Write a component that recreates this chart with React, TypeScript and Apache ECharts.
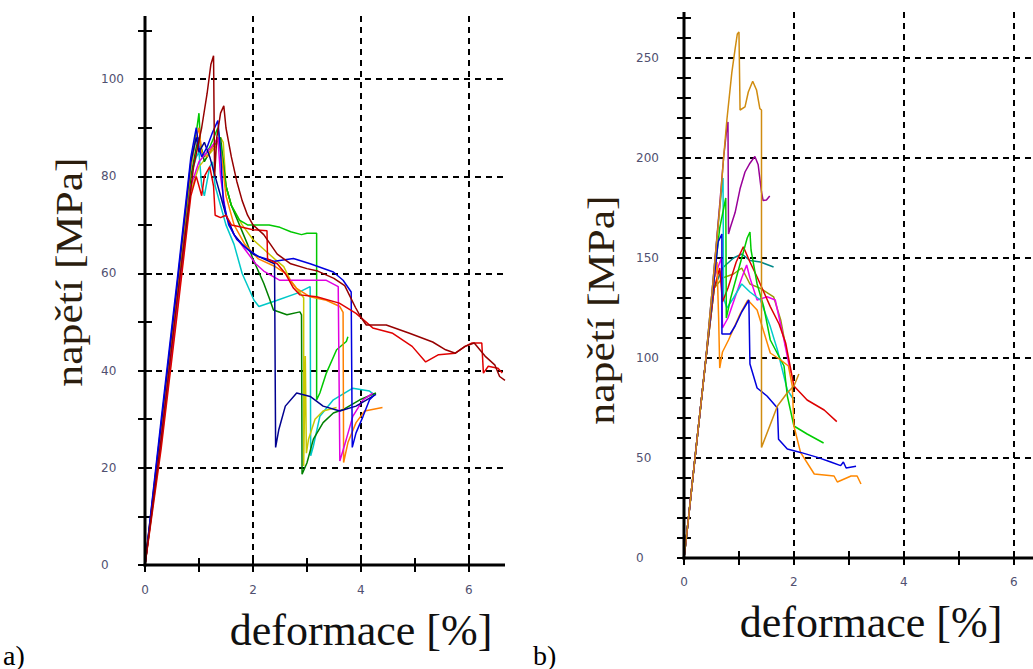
import React, { useEffect, useRef } from 'react';
import * as echarts from 'echarts';

// ---------- axis ranges, ticks & labels ----------
const A_X_MAX = 6.67;
const A_Y_MAX = 113;
const B_X_MAX = 6.35;
const B_Y_MAX = 273;
const X_TICKS = [0, 1, 2, 3, 4, 5, 6];
const X_LABELS = [0, 2, 4, 6];
const LEFT_Y_TICKS = [0, 10, 20, 30, 40, 50, 60, 70, 80, 90, 100, 110];
const LEFT_Y_LABELS = [0, 20, 40, 60, 80, 100];
const RIGHT_Y_TICKS = [0, 10, 20, 30, 40, 50, 60, 70, 80, 90, 100, 110, 120, 130, 140, 150, 160, 170, 180, 190, 200, 210, 220, 230, 240, 250, 260, 270];
const RIGHT_Y_LABELS = [0, 50, 100, 150, 200, 250];

// ---------- a) series: [deformace %, napětí MPa] ----------
const A_MAROON = [[0,0],[0.3,26],[0.6,55],[0.9,82],[1.05,90],[1.15,97],[1.22,103],[1.27,104.8],[1.29,80],[1.33,88],[1.4,93],[1.46,94.5],[1.5,90],[1.6,84],[1.7,79],[1.8,75],[1.9,72],[2.0,70],[2.2,68],[2.45,64],[2.7,62],[3.0,61],[3.2,60.5],[3.5,59],[3.7,57.5],[3.9,53],[4.0,51],[4.1,49.4],[4.47,49.4],[4.9,47.7],[5.33,45.9],[5.57,44.3],[5.75,43.6],[5.93,45],[6.1,45.7],[6.3,43],[6.48,41.2],[6.57,38.8],[6.67,38]];
const A_RED = [[0,0],[0.3,24],[0.6,52],[0.85,76],[0.95,80],[1.05,76],[1.1,80],[1.2,82],[1.27,78],[1.3,72],[1.4,71.5],[1.5,72],[1.6,70],[1.8,69.5],[2.0,69],[2.26,68.8],[2.27,63],[2.45,62],[2.6,60],[2.75,57],[2.87,55.6],[3.18,55.2],[3.6,53.9],[3.91,51.8],[4.22,48.8],[4.59,47.7],[4.95,45],[5.2,41.8],[5.44,43.3],[5.75,43.6],[5.93,45],[6.06,45.7],[6.24,45.7],[6.27,39.5],[6.36,40.9],[6.54,40.5],[6.62,39.5]];
const A_GREEN = [[0,0],[0.3,28],[0.6,57],[0.85,82],[0.95,89],[1.0,93],[1.03,86],[1.1,84],[1.2,86],[1.35,90],[1.42,85],[1.5,78],[1.6,74],[1.75,71],[1.9,70],[2.1,70],[2.3,70],[2.5,69.5],[2.7,68.6],[2.9,68],[3.0,68.3],[3.18,68.3],[3.18,34],[3.24,35.4],[3.36,39.5],[3.55,44.3],[3.73,46],[3.76,47]];
const A_DGREEN = [[0,0],[0.3,27],[0.6,56],[0.85,80],[0.95,86],[1.0,88],[1.1,83],[1.25,86],[1.4,88],[1.5,78],[1.6,74],[1.75,70],[1.9,66],[2.0,63],[2.2,58],[2.3,55],[2.38,52.5],[2.63,51.5],[2.87,52.1],[2.9,51.5],[2.91,18.7],[3.0,21],[3.12,25.9],[3.3,29.3],[3.49,31.3],[3.67,32],[3.98,34],[4.28,35.4]];
const A_CYAN = [[0,0],[0.3,27],[0.6,56],[0.85,80],[0.95,84],[1.0,85],[1.05,78],[1.1,76],[1.2,82],[1.25,83],[1.3,78],[1.4,74],[1.5,70],[1.65,66],[1.8,60],[2.02,54.5],[2.11,53.2],[2.45,54.5],[2.81,55.9],[3.06,57.3],[3.07,22.5],[3.12,24.5],[3.24,30.6],[3.49,34],[3.85,36.4],[4.16,35.8],[4.25,35]];
const A_BLUE = [[0,0],[0.3,30],[0.6,59],[0.85,84],[0.95,90],[1.0,86],[1.05,84],[1.15,86],[1.25,89],[1.35,91.5],[1.4,85],[1.45,75],[1.55,70],[1.7,67],[1.9,65],[2.1,63.5],[2.4,62.5],[2.75,63.1],[3.06,62],[3.49,60.3],[3.67,58.6],[3.82,56.2],[3.84,24.2],[3.91,27.2],[4.04,30.6],[4.16,34],[4.25,35]];
const A_NAVY = [[0,0],[0.3,29],[0.6,58],[0.85,83],[0.95,88],[1.0,85],[1.1,87],[1.2,84],[1.3,80],[1.4,76],[1.5,72],[1.65,68],[1.8,66],[2.0,64],[2.2,63],[2.4,62],[2.42,24.2],[2.48,27.9],[2.6,32.7],[2.81,35.4],[3.06,34.7],[3.3,32.7],[3.61,31.7],[3.91,32.7],[4.28,35.1]];
const A_MAGENTA = [[0,0],[0.3,26],[0.6,54],[0.85,78],[1.0,83],[1.15,85],[1.3,87],[1.35,88],[1.4,80],[1.5,72],[1.65,68],[1.85,65],[2.05,62],[2.2,60.5],[2.32,59.7],[2.5,58.6],[3.36,58.6],[3.58,57.3],[3.61,21.4],[3.73,25.9],[3.85,30.6],[4.04,34],[4.22,35.4]];
const A_ORANGE = [[0,0],[0.3,28],[0.6,57],[0.85,82],[0.95,88],[1.0,90],[1.05,85],[1.15,84],[1.25,86],[1.35,88],[1.42,84],[1.5,76],[1.65,70],[1.85,66],[2.1,63],[2.4,61.5],[2.6,60],[2.8,57],[3.06,55.2],[3.36,54.5],[3.61,53.2],[3.67,52],[3.68,21.1],[3.76,25.2],[3.91,29.3],[4.07,31.7],[4.4,32.4]];
const A_YELLOW = [[0,0],[0.3,25],[0.6,53],[0.85,77],[1.0,82],[1.15,84],[1.3,86],[1.4,88],[1.45,87],[1.5,78],[1.6,74],[1.8,70],[2.0,67],[2.2,65],[2.4,63],[2.57,61.4],[2.7,58.5],[2.81,56.9],[2.94,55],[2.94,20.4],[2.97,43],[2.99,23],[3.03,25.9],[3.15,30],[3.3,31.7],[3.55,32.4]];

// ---------- b) series ----------
const B_GOLD = [[0,0],[0.05,12],[0.2,50],[0.4,100],[0.55,145],[0.65,175],[0.72,200],[0.78,219],[0.87,242.7],[0.93,254.6],[0.97,262],[1.0,263],[1.02,224],[1.11,225.6],[1.17,233],[1.25,238.4],[1.32,234],[1.38,224.7],[1.41,224],[1.41,55.3],[1.7,76],[1.88,82.6],[2.0,86],[2.09,92]];
const B_PURPLE = [[0,0],[0.05,12],[0.2,50],[0.4,100],[0.55,145],[0.66,180],[0.72,200],[0.78,215],[0.8,218],[0.81,162],[0.84,165],[0.93,172.7],[1.02,184.6],[1.11,193],[1.2,197.4],[1.29,200.8],[1.35,196.6],[1.41,183],[1.44,178.7],[1.5,179],[1.56,181]];
const B_CYAN = [[0,0],[0.05,12],[0.2,50],[0.4,100],[0.55,145],[0.65,175],[0.71,190],[0.72,130],[0.78,125],[0.9,130],[1.05,137],[1.2,133],[1.39,129],[1.57,115.7],[1.7,104],[1.88,84],[2.0,79]];
const B_BLUE = [[0,0],[0.05,12],[0.2,50],[0.4,100],[0.55,140],[0.62,158],[0.69,162],[0.69,112],[0.84,112],[0.93,116],[1.05,123],[1.18,129],[1.2,97],[1.33,85],[1.51,81],[1.7,75],[1.72,59.4],[1.88,54.5],[2.12,52.8],[2.43,50.3],[2.67,48],[2.85,46.2],[2.9,48],[2.95,45],[3.13,45.9]];
const B_ORANGE = [[0,0],[0.05,12],[0.2,50],[0.4,100],[0.55,140],[0.6,148],[0.63,120],[0.65,95],[0.7,103],[0.81,109],[1.02,122],[1.16,129],[1.33,124],[1.57,102.5],[1.76,99],[1.9,96],[1.97,86],[2.0,66],[2.12,52.8],[2.37,42],[2.73,41],[2.79,38],[3.04,41],[3.15,41],[3.22,37]];
const B_RED = [[0,0],[0.05,12],[0.2,50],[0.4,100],[0.55,135],[0.65,145],[0.7,128],[0.8,135],[0.95,148],[1.08,155.6],[1.2,148],[1.33,140.5],[1.57,125.7],[1.73,117],[1.85,107.5],[2.0,86],[2.24,79],[2.55,74],[2.78,68.2]];
const B_GREEN = [[0,0],[0.05,12],[0.2,50],[0.4,100],[0.55,140],[0.65,165],[0.76,180],[0.77,120],[0.85,130],[0.95,140],[1.05,150],[1.15,160],[1.2,163],[1.22,154],[1.33,137],[1.45,125.7],[1.57,109],[1.82,96],[1.88,81],[2.0,66],[2.24,62],[2.54,57.5]];
const B_MAGENTA = [[0,0],[0.05,12],[0.2,50],[0.4,100],[0.55,140],[0.68,150],[0.7,115],[0.8,120],[0.95,132],[1.05,140],[1.14,146.5],[1.2,140],[1.33,129],[1.51,130.6],[1.66,129],[1.82,109],[1.94,92.5]];
const B_OLIVE = [[0,0],[0.05,12],[0.2,50],[0.4,100],[0.55,135],[0.7,140],[0.9,142],[1.05,145],[1.2,137],[1.39,134.8],[1.63,130.6],[1.76,119],[1.85,105.8]];
const B_TEAL = [[0,0],[0.05,12],[0.2,50],[0.4,100],[0.55,135],[0.7,145],[0.9,150],[1.05,152],[1.2,148.8],[1.39,148],[1.63,145.5]];

const A_LIST = [
  ['a-cyan', '#00c8c8', A_CYAN], ['a-yellow', '#c8c800', A_YELLOW], ['a-dgreen', '#008000', A_DGREEN],
  ['a-green', '#00c800', A_GREEN], ['a-orange', '#ff8000', A_ORANGE], ['a-magenta', '#e000e0', A_MAGENTA],
  ['a-navy', '#000090', A_NAVY], ['a-blue', '#0000e0', A_BLUE], ['a-red', '#e00000', A_RED], ['a-maroon', '#960000', A_MAROON],
];
const B_LIST = [
  ['b-teal', '#008888', B_TEAL], ['b-olive', '#999900', B_OLIVE], ['b-magenta', '#ee00ee', B_MAGENTA],
  ['b-cyan', '#00cccc', B_CYAN], ['b-red', '#dd0000', B_RED], ['b-green', '#00cc00', B_GREEN],
  ['b-orange', '#ff8800', B_ORANGE], ['b-blue', '#0000dd', B_BLUE], ['b-purple', '#990099', B_PURPLE], ['b-gold', '#d08c10', B_GOLD],
];

const TICK_FONT = { fontSize: 12, color: '#505070', fontFamily: 'DejaVu Sans, Verdana, sans-serif' };
const BLACK = '#000';

function makeAxes(gi: number, kind: 'split' | 'outer' | 'inner', xMax: number, yMax: number,
  yTicks: number[], yLabels: number[], yGridStep: number, yLabelMargin: number, xLabelMargin: number) {
  if (kind === 'split') {
    const common = (max: number, interval: number) => ({
      type: 'value', gridIndex: gi, min: 0, max, interval,
      axisLine: { show: false },
      axisTick: { show: false },
      axisLabel: { show: false },
      splitLine: { show: true, showMinLine: false, showMaxLine: false, lineStyle: { color: BLACK, width: 2, type: [6, 5] } },
    });
    return { xAxis: common(xMax, 2), yAxis: common(yMax, yGridStep) };
  }
  const inside = kind === 'inner';
  const xAxis: any = {
    type: 'value', gridIndex: gi, min: 0, max: xMax, interval: 1,
    axisLine: { show: false },
    axisTick: { show: true, inside, length: 7, customValues: X_TICKS, lineStyle: { color: BLACK, width: 2 } },
    axisLabel: {
      show: !inside, customValues: X_LABELS, margin: xLabelMargin, ...TICK_FONT,
      formatter: (v: number) => (X_LABELS.includes(v) ? String(v) : ''),
    },
    splitLine: { show: false },
  };
  const yAxis: any = {
    type: 'value', gridIndex: gi, min: 0, max: yMax, interval: 10,
    axisLine: { show: false },
    axisTick: { show: true, inside, length: 7, customValues: yTicks, lineStyle: { color: BLACK, width: 2 } },
    axisLabel: {
      show: !inside, customValues: yLabels, margin: yLabelMargin, align: 'left', ...TICK_FONT,
      formatter: (v: number) => (yLabels.includes(v) ? String(v) : ''),
    },
    splitLine: { show: false },
  };
  return { xAxis, yAxis };
}

export default function App() {
  const ref = useRef<HTMLDivElement>(null);
  useEffect(() => {
    if (!ref.current) return;
    const chart = echarts.init(ref.current, null, { renderer: 'svg' });
    const L = { left: 145, top: 16, width: 360, height: 549 };
    const R = { left: 684, top: 12, width: 349, height: 546 };
    const grids = [L, L, L, R, R, R].map((g) => ({ ...g, containLabel: false, outerBoundsMode: 'none' }));
    const kinds: ('split' | 'outer' | 'inner')[] = ['split', 'outer', 'inner'];
    const xAxes: any[] = [];
    const yAxes: any[] = [];
    kinds.forEach((k, i) => {
      const a = makeAxes(i, k, A_X_MAX, A_Y_MAX, LEFT_Y_TICKS, LEFT_Y_LABELS, 20, 44, 19);
      xAxes.push(a.xAxis); yAxes.push(a.yAxis);
    });
    kinds.forEach((k, i) => {
      const a = makeAxes(3 + i, k, B_X_MAX, B_Y_MAX, RIGHT_Y_TICKS, RIGHT_Y_LABELS, 50, 48, 18);
      xAxes.push(a.xAxis); yAxes.push(a.yAxis);
    });
    const mk = (list: any[], gi: number) => list.map(([name, color, data]) => ({
      type: 'line', name, data, xAxisIndex: gi, yAxisIndex: gi, showSymbol: false, symbol: 'none',
      lineStyle: { color, width: 1.5 }, itemStyle: { color }, z: 3,
    }));
    // invisible anchor series so the tick-only grids are laid out like the data grids
    const anchor = (gi: number) => ({
      type: 'line', name: 'anchor' + gi, data: [[0, 0]], xAxisIndex: gi, yAxisIndex: gi,
      showSymbol: false, symbol: 'none', lineStyle: { opacity: 0 }, silent: true,
    });
    const serif = 'Liberation Serif, Times New Roman, serif';
    const texts = [
      { type: 'text', x: 69, y: 272, rotation: Math.PI / 2, scaleX: 1.15,
        style: { text: 'napětí [MPa]', fontSize: 38, fontFamily: serif, fill: '#2b1d0e', align: 'center', verticalAlign: 'middle' } },
      { type: 'text', x: 601, y: 310, rotation: Math.PI / 2, scaleX: 1.15,
        style: { text: 'napětí [MPa]', fontSize: 38, fontFamily: serif, fill: '#2b1d0e', align: 'center', verticalAlign: 'middle' } },
      { type: 'text', x: 361, y: 630,
        style: { text: 'deformace [%]', fontSize: 44, fontFamily: serif, fill: '#111', align: 'center', verticalAlign: 'middle' } },
      { type: 'text', x: 871, y: 622,
        style: { text: 'deformace [%]', fontSize: 44, fontFamily: serif, fill: '#111', align: 'center', verticalAlign: 'middle' } },
      { type: 'text', x: 3, y: 655,
        style: { text: 'a)', fontSize: 28, fontFamily: serif, fill: '#000', align: 'left', verticalAlign: 'middle' } },
      { type: 'text', x: 533, y: 655,
        style: { text: 'b)', fontSize: 28, fontFamily: serif, fill: '#000', align: 'left', verticalAlign: 'middle' } },
    ];
    chart.setOption({
      animation: false,
      backgroundColor: '#fff',
      grid: grids,
      xAxis: xAxes,
      yAxis: yAxes,
      series: [...mk(A_LIST, 0), ...mk(B_LIST, 3), anchor(1), anchor(2), anchor(4), anchor(5)],
    });
    // axis lines: solid black bars placed through the chart's own scales
    const axisBars = (gi: number, xMax: number, yMax: number) => {
      const p0 = chart.convertToPixel({ gridIndex: gi }, [0, 0]) as number[];
      const p1 = chart.convertToPixel({ gridIndex: gi }, [xMax, yMax]) as number[];
      return [
        { type: 'rect', z: 10, silent: true, shape: { x: p0[0] - 1.5, y: p1[1], width: 3, height: p0[1] - p1[1] + 1.5 }, style: { fill: BLACK } },
        { type: 'rect', z: 10, silent: true, shape: { x: p0[0] - 1.5, y: p0[1] - 1.5, width: p1[0] - p0[0] + 1.5, height: 3 }, style: { fill: BLACK } },
      ];
    };
    chart.setOption({ graphic: [...texts, ...axisBars(0, A_X_MAX, A_Y_MAX), ...axisBars(3, B_X_MAX, B_Y_MAX)] });
    return () => chart.dispose();
  }, []);
  return <div ref={ref} style={{ position: 'fixed', left: 0, top: 0, width: 1033, height: 669 }} />;
}
